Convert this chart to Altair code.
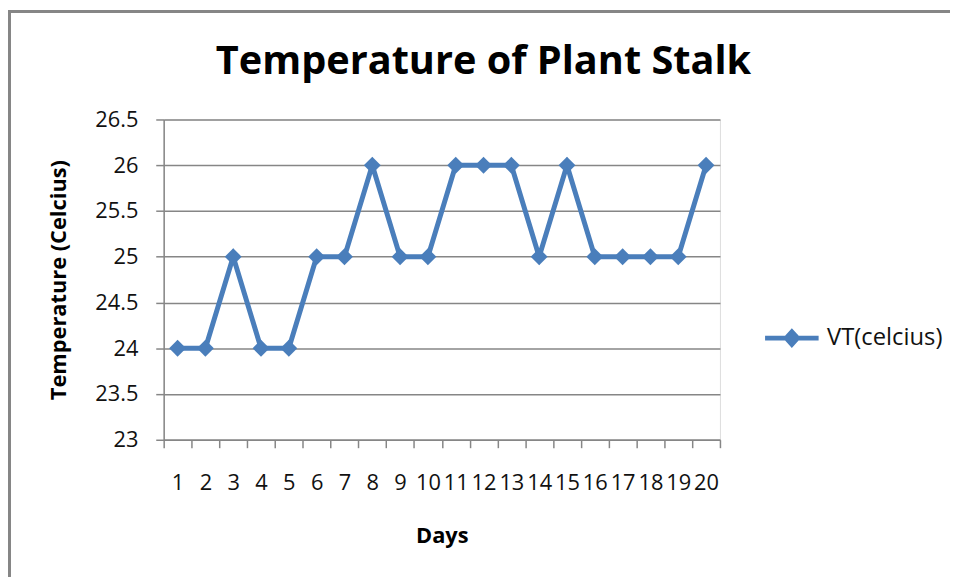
import altair as alt
import pandas as pd

days = list(range(1, 21))
temps = [24, 24, 25, 24, 24, 25, 25, 26, 25, 25, 26, 26, 26, 25, 26, 25, 25, 25, 25, 26]
series_name = "VT(celcius)"
y_ticks = [23, 23.5, 24, 24.5, 25, 25.5, 26, 26.5]

df = pd.DataFrame({"Day": days, "Temp": temps, "Series": [series_name] * len(days)})

BLUE = "#4a7ebb"
GRAY = "#868686"
FONT = "Open Sans"

legend_path = "M-1,0L1,0M-0.21,0L0,-0.23L0.21,0L0,0.23Z"

x_enc = alt.X(
    "Day:O",
    scale=alt.Scale(type="band", paddingInner=0, paddingOuter=0),
    axis=alt.Axis(
        title="Days",
        labelAngle=0,
        labelOverlap=False,
        tickBand="extent",
        tickSize=8,
        tickColor=GRAY,
        tickWidth=1.5,
        domainColor=GRAY,
        domainWidth=1.5,
        labelFontSize=22,
        labelFont=FONT,
        labelColor="#111111",
        labelPadding=25,
        titleFont=FONT,
        titleFontSize=22,
        titleFontWeight="bold",
        titleColor="#000000",
        titlePadding=33,
        grid=False,
    ),
)
y_enc = alt.Y(
    "Temp:Q",
    scale=alt.Scale(domain=[23, 26.5], nice=False, zero=False),
    axis=alt.Axis(
        title="Temperature (Celcius)",
        values=y_ticks,
        format=".1~f",
        tickSize=8,
        tickColor=GRAY,
        tickWidth=1.5,
        domainColor=GRAY,
        domainWidth=1.5,
        gridColor=GRAY,
        gridWidth=1.5,
        labelFontSize=22,
        labelFont=FONT,
        labelColor="#111111",
        labelPadding=18,
        titleFont=FONT,
        titleFontSize=22,
        titleFontWeight="bold",
        titleColor="#000000",
        titlePadding=24,
    ),
)
color_enc = alt.Color(
    "Series:N",
    scale=alt.Scale(range=[BLUE]),
    title=None,
    legend=alt.Legend(
        orient="none",
        legendX=604,
        legendY=191,
        symbolType=legend_path,
        symbolSize=2916,
        symbolStrokeWidth=5,
        symbolFillColor=BLUE,
        symbolStrokeColor=BLUE,
        labelFont=FONT,
        labelFontSize=24,
        labelColor="#111111",
        labelOffset=6,
    ),
)

base = alt.Chart(df).encode(x=x_enc, y=y_enc, color=color_enc)
line = base.mark_line(strokeWidth=5)
points = base.mark_point(shape="diamond", filled=True, size=290, opacity=1)

border_top = alt.Chart(df).mark_rule(color=GRAY, strokeWidth=2.5).encode(
    x=alt.value(-157), x2=alt.value(793), y=alt.value(-109)
)
border_left = alt.Chart(df).mark_rule(color=GRAY, strokeWidth=2.5).encode(
    x=alt.value(-156), y=alt.value(-110), y2=alt.value(461)
)

chart = (
    alt.layer(line, points, border_top, border_left)
    .properties(
        width=561,
        height=323,
        padding={"left": 157, "top": 110, "right": 232, "bottom": 138},
        autosize=alt.AutoSizeParams(type="none"),
        title=alt.TitleParams(
            "Temperature of Plant Stalk",
            font=FONT,
            fontSize=40,
            fontWeight="bold",
            color="#000000",
            anchor="middle",
            frame="group",
            baseline="alphabetic",
            dx=42,
            offset=-105,
        ),
    )
    .configure_view(stroke=None)
    .configure(background="white")
)

chart.save("out.html", embed_options={"renderer": "svg", "actions": False})
